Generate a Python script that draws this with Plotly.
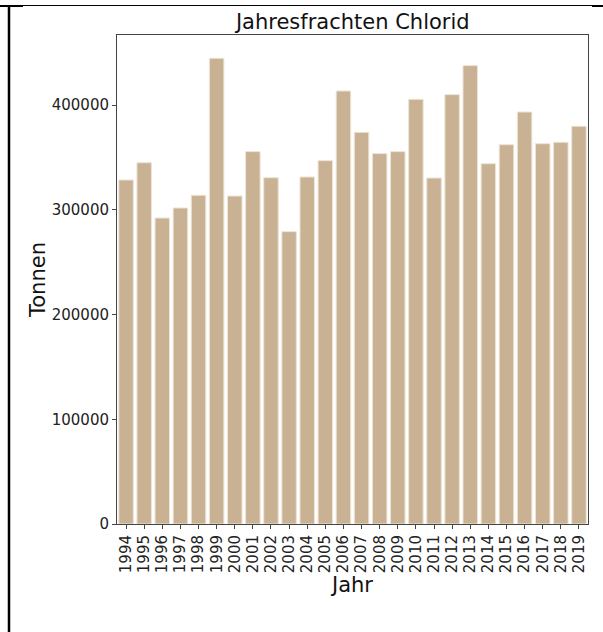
import plotly.graph_objects as go

# Jahresfrachten Chlorid (Tonnen)
jahre = [str(j) for j in range(1994, 2020)]
tonnen = [
    328400, 344900, 292100, 301700, 313800, 444600, 313100, 355500, 330600,
    279100, 331300, 346900, 413400, 373900, 353600, 355500, 405400, 330300,
    409900, 437600, 344000, 362100, 393300, 363100, 364400, 379700,
]
y_ticks = [0, 100000, 200000, 300000, 400000]

fig = go.Figure()
fig.add_trace(go.Bar(
    x=jahre,
    y=tonnen,
    marker=dict(color="#C9B294", line=dict(color="#EDE4D6", width=1)),
    width=0.8,
))

axis_font = dict(family="DejaVu Sans", size=15, color="#222")

fig.update_layout(
    width=603,
    height=632,
    margin=dict(l=117, r=15, t=35, b=108),
    paper_bgcolor="white",
    plot_bgcolor="white",
    showlegend=False,
    font=dict(family="DejaVu Sans", color="#111"),
    title=dict(
        text="Jahresfrachten Chlorid",
        x=0.585, xanchor="center",
        y=0.966, yanchor="middle",
        font=dict(size=21, color="#111"),
    ),
    xaxis=dict(
        type="category",
        range=[-0.5, 25.5],
        tickangle=-90,
        tickfont=axis_font,
        ticks="outside", ticklen=4, tickcolor="#444",
        showline=True, linecolor="#444", linewidth=1, mirror=True,
        showgrid=False,
        title=dict(text="Jahr", font=dict(size=21, color="#111"), standoff=4),
    ),
    yaxis=dict(
        range=[0, max(tonnen) * 1.05],
        tickvals=y_ticks,
        ticktext=[str(v) for v in y_ticks],
        tickfont=axis_font,
        ticks="outside", ticklen=4, tickcolor="#444",
        showline=True, linecolor="#444", linewidth=1, mirror=True,
        showgrid=False, zeroline=False,
        title=dict(text="Tonnen", font=dict(size=21, color="#111"), standoff=0),
    ),
)

# notebook cell border around the figure
def px_x(px):
    return (px - 117) / 471

def px_y(py):
    return (524 - py) / 489

fig.add_shape(type="line", xref="paper", yref="paper",
              x0=px_x(0), x1=px_x(603), y0=px_y(5.5), y1=px_y(5.5),
              line=dict(color="black", width=1))
fig.add_shape(type="line", xref="paper", yref="paper",
              x0=px_x(0), x1=px_x(23), y0=px_y(6), y1=px_y(6),
              line=dict(color="black", width=2))
fig.add_shape(type="line", xref="paper", yref="paper",
              x0=px_x(592), x1=px_x(603), y0=px_y(6), y1=px_y(6),
              line=dict(color="black", width=2))
fig.add_shape(type="line", xref="paper", yref="paper",
              x0=px_x(9), x1=px_x(9), y0=px_y(5), y1=px_y(632),
              line=dict(color="black", width=2.5))

# page has a default body margin; drop it so the figure sits at 0,0
fig.write_html("out.html", config={"displayModeBar": False},
               post_script="document.body.style.margin='0';")
